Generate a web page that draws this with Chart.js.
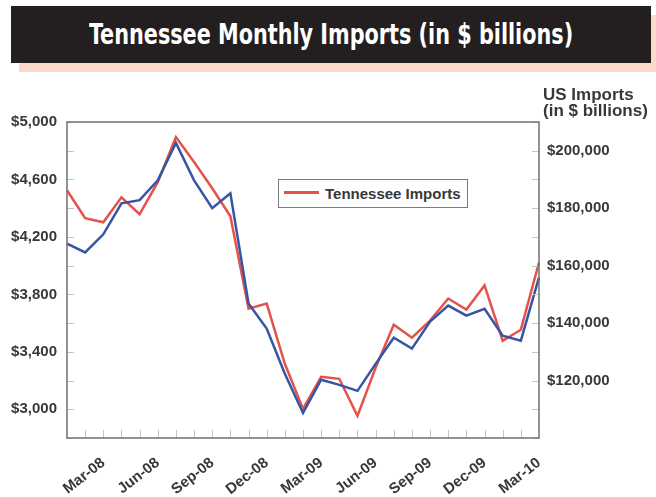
<!DOCTYPE html>
<html>
<head>
<meta charset="utf-8">
<script src="https://cdn.jsdelivr.net/npm/chart.js@4.4.1/dist/chart.umd.min.js"></script>
<style>
  body { margin: 0; background: #fff; }
  #wrap { position: relative; width: 656px; height: 497px; overflow: hidden; font-family: "Liberation Sans", Arial, sans-serif; }
  #shadow { position: absolute; left: 19px; top: 15px; width: 637px; height: 57px; background: #fcd9cb; }
  #banner { position: absolute; left: 11px; top: 6px; width: 640px; height: 57px; background: #231f20; }
  #title { position: absolute; left: 0; top: 0; width: 100%; height: 57px; line-height: 57px; text-align: center; color: #fff;
           font-family: "Liberation Sans Narrow", "DejaVu Sans Condensed", "DejaVu Sans", sans-serif; font-weight: bold; font-size: 29px; white-space: nowrap; }
  #title span { display: inline-block; transform-origin: center; }
  #chart { position: absolute; left: 0; top: 0; }
  #usTitle { position: absolute; left: 543px; top: 87px; font-weight: bold; font-size: 17px; line-height: 16px; color: #383838; white-space: nowrap; }
  #legend { position: absolute; left: 278px; top: 179px; width: 188px; height: 27px; border: 1.5px solid #7a7a7a; background: #fff;
            font-weight: bold; font-size: 15px; color: #383838; white-space: nowrap; }
  #legend i { position: absolute; left: 5px; top: 11px; width: 35px; height: 2.5px; }
  #legend b { position: absolute; left: 46px; top: 5px; }
</style>
</head>
<body>
<div id="wrap">
  <div id="shadow"></div>
  <div id="banner"><div id="title"><span>Tennessee Monthly Imports (in $ billions)</span></div></div>
  <canvas id="chart" width="656" height="497"></canvas>
  <div id="usTitle">US Imports<br>(in $ billions)</div>
  <div id="legend"></div>
</div>
<script>
// monthly, Jan-08 .. Mar-10
const months = ["Jan-08", "Feb-08", "Mar-08", "Apr-08", "May-08", "Jun-08", "Jul-08", "Aug-08", "Sep-08",
  "Oct-08", "Nov-08", "Dec-08", "Jan-09", "Feb-09", "Mar-09", "Apr-09", "May-09", "Jun-09", "Jul-09",
  "Aug-09", "Sep-09", "Oct-09", "Nov-09", "Dec-09", "Jan-10", "Feb-10", "Mar-10"];

// left axis
const tnImports = [4525, 4330, 4302, 4476, 4358, 4581, 4895, 4721, 4539, 4344, 3701, 3736, 3317,
  3003, 3226, 3212, 2954, 3289, 3589, 3498, 3617, 3771, 3694, 3862, 3477, 3554, 4022];

// right axis
const usImports = [167700, 164600, 170900, 181700, 182800, 189700, 202700, 189700, 180000, 185200,
  146800, 138100, 122400, 108700, 120300, 118500, 116400, 125800, 134900, 131100, 140500, 146100,
  142600, 145000, 135600, 133900, 155900];

const tnLabel = "Tennessee Imports";
const usLabel = "US Imports";

const red = "#e5524a";
const blue = "#3755a5";
const textColor = "#383838";
const tickFont = { family: "'Liberation Sans', Arial, sans-serif", size: 15, weight: "bold" };

// squeeze title to the width of the original
const tspan = document.querySelector("#title span");
tspan.style.transform = "scaleX(" + (484 / tspan.offsetWidth) + ")";

const leg = document.getElementById("legend");
leg.innerHTML = '<i style="background:' + red + '"></i><b>' + tnLabel + "</b>";

const money = v => "$" + v.toLocaleString("en-US");

// small inward tick marks + plot frame
const frame = {
  id: "frame",
  afterDatasetsDraw(chart) {
    const c = chart.ctx;
    const a = chart.chartArea;
    c.save();
    c.strokeStyle = "#c4c4c4";
    c.lineWidth = 1;
    c.beginPath();
    chart.scales.y.ticks.forEach(t => {
      const py = Math.round(chart.scales.y.getPixelForValue(t.value)) + 0.5;
      c.moveTo(a.left, py); c.lineTo(a.left + 7, py);
    });
    chart.scales.y2.ticks.forEach(t => {
      const py = Math.round(chart.scales.y2.getPixelForValue(t.value)) + 0.5;
      c.moveTo(a.right, py); c.lineTo(a.right - 7, py);
    });
    for (let i = 1; i < months.length - 1; i++) {
      const px = Math.round(chart.scales.x.getPixelForValue(i)) + 0.5;
      c.moveTo(px, a.bottom); c.lineTo(px, a.bottom - 8);
    }
    c.stroke();
    c.strokeStyle = "#707070";
    c.lineWidth = 1.5;
    c.strokeRect(a.left, a.top, a.right - a.left, a.bottom - a.top);
    c.restore();
  }
};

new Chart(document.getElementById("chart"), {
  type: "line",
  data: {
    labels: months,
    datasets: [
      { label: usLabel, data: usImports, yAxisID: "y2", borderColor: blue, borderWidth: 2.5, pointRadius: 0, tension: 0 },
      { label: tnLabel, data: tnImports, yAxisID: "y", borderColor: red, borderWidth: 2.5, pointRadius: 0, tension: 0 }
    ]
  },
  options: {
    responsive: false,
    animation: false,
    layout: { padding: { top: 122, left: 0, right: 0, bottom: 0 } },
    plugins: { legend: { display: false }, tooltip: { enabled: false } },
    scales: {
      x: {
        offset: false,
        grid: { display: false, drawTicks: false },
        border: { display: false },
        ticks: {
          autoSkip: false, minRotation: 38, maxRotation: 38, padding: 16,
          color: textColor, font: tickFont,
          callback: (v, i) => (i % 3 === 2 ? months[i] : "")
        },
        afterFit: s => { s.height = 59; }
      },
      y: {
        position: "left", min: 2800, max: 5000,
        grid: { display: false, drawTicks: false },
        border: { display: false },
        ticks: {
          stepSize: 200, padding: 10, color: textColor, font: tickFont,
          callback: v => (v >= 3000 && (v - 3000) % 400 === 0 ? money(v) : "")
        },
        afterFit: s => { s.width = 67; }
      },
      y2: {
        position: "right", min: 100000, max: 210000,
        grid: { display: false, drawTicks: false },
        border: { display: false },
        ticks: {
          stepSize: 10000, padding: 8, color: textColor, font: tickFont,
          callback: v => (v >= 120000 && v <= 200000 && v % 20000 === 0 ? money(v) : "")
        },
        afterFit: s => { s.width = 117; }
      }
    }
  },
  plugins: [frame]
});
</script>
</body>
</html>
